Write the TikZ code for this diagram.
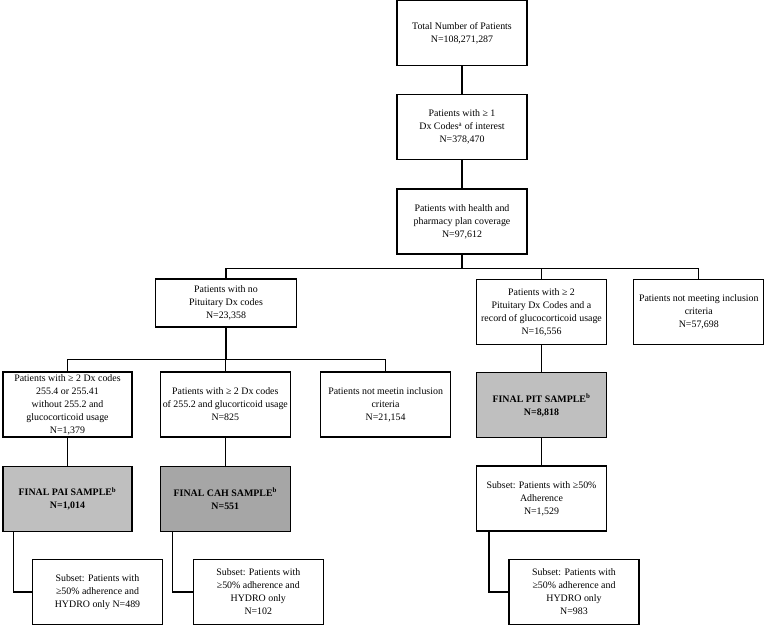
\documentclass[tikz,border=0pt]{standalone}
\usepackage{fontspec}
\setmainfont{Liberation Serif}
\usepackage{tikz}
\usetikzlibrary{positioning}
\usepackage{xcolor}

\begin{document}
\begin{tikzpicture}[
    node distance=28pt and 27pt,
    box/.style={rectangle,draw,line width=1.3pt,minimum width=130pt,
                minimum height=65pt,inner sep=1pt,align=center,
                font=\fontsize{9.9}{13}\selectfont},
    final/.style={box,fill=black!25,font=\fontsize{9.9}{13}\selectfont\bfseries},
    line width=1.3pt
  ]
    \useasboundingbox (0,0) rectangle (766pt,-625pt);
    % main trunk
    \node[box] (T) at (462pt,-33pt) {Total Number of Patients\\N=108,271,287};
    \node[box,below=of T] (D) {Patients with ≥ 1\\Dx Codes\textsuperscript{a} of interest\\N=378,470};
    \node[box,below=of D] (H) {Patients with health and\\pharmacy plan coverage\\N=97,612};
    % first split
    \node[box,minimum width=141pt,minimum height=48pt] (NP) at (226pt,-303pt)
        {Patients with no\\Pituitary Dx codes\\N=23,358};
    \node[box] (P2) at (541.5pt,-312pt)
        {Patients with ≥ 2\\Pituitary Dx Codes and a\\record of glucocorticoid usage\\N=16,556};
    \node[box,right=26pt of P2] (NM1) {Patients not meeting inclusion\\criteria\\N=57,698};
    % second split
    \node[box,minimum width=129pt] (A) at (67.5pt,-404.5pt)
        {Patients with ≥ 2 Dx codes\\255.4 or 255.41\\without 255.2 and\\glucocorticoid usage\\N=1,379};
    \node[box,right=of A] (C) {Patients with ≥ 2 Dx codes\\of 255.2 and glucorticoid usage\\N=825};
    \node[box,right=29pt of C] (NM2) {Patients not meetin inclusion\\criteria\\N=21,154};
    \node[final,below=27pt of P2] (FP) {FINAL PIT SAMPLE\textsuperscript{b}\\N=8,818};
    % final samples
    \node[final,minimum width=129pt,below=of A] (FA) {FINAL PAI SAMPLE\textsuperscript{b}\\N=1,014};
    \node[final,fill=black!35,below=of C] (FC) {FINAL CAH SAMPLE\textsuperscript{b}\\N=551};
    \node[box,below=27pt of FP] (S1) {Subset: Patients with ≥50\%\\Adherence\\N=1,529};
    % subsets
    \node[box,below=27pt of FA,xshift=30pt] (SA) {Subset: Patients with\\≥50\% adherence and\\HYDRO only N=489};
    \node[box,below=27pt of FC,xshift=33pt] (SC) {Subset: Patients with\\≥50\% adherence and\\HYDRO only\\N=102};
    \node[box,below=27pt of S1,xshift=32.5pt] (S2) {Subset: Patients with\\≥50\% adherence and\\HYDRO only\\N=983};

    \draw (T) -- (D);
    \draw (D) -- (H);
    \draw (H.south) -- ++(0,-14pt) coordinate (b1);
    \draw (NP.north) |- (b1) -| (NM1.north);
    \draw (P2.north) -- (P2.north |- b1);
    \draw (NP.south) -- ++(0,-32pt) coordinate (b2);
    \draw (A.north) |- (b2) -| (NM2.north);
    \draw (C.north) -- (C.north |- b2);
    \draw (P2) -- (FP);
    \draw (A) -- (FA);
    \draw (C) -- (FC);
    \draw (FP) -- (S1);
    \draw ([xshift=11pt]FA.south west) |- (SA.west);
    \draw ([xshift=13pt]FC.south west) |- (SC.west);
    \draw ([xshift=13pt]S1.south west) |- (S2.west);
  \end{tikzpicture}
\end{document}
